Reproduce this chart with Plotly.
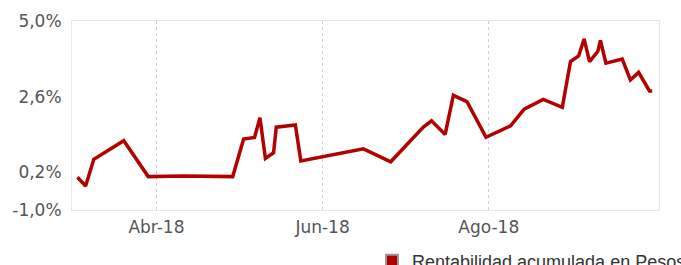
import plotly.graph_objects as go

dates = [
    "2018-03-03", "2018-03-06", "2018-03-09", "2018-03-20", "2018-03-29",
    "2018-04-11", "2018-04-29", "2018-05-03", "2018-05-07", "2018-05-09",
    "2018-05-11", "2018-05-14", "2018-05-15", "2018-05-22", "2018-05-24",
    "2018-06-16", "2018-06-26", "2018-07-08", "2018-07-11", "2018-07-16",
    "2018-07-19", "2018-07-24", "2018-07-31", "2018-08-09", "2018-08-14",
    "2018-08-21", "2018-08-28", "2018-08-31", "2018-09-03", "2018-09-05",
    "2018-09-07", "2018-09-10", "2018-09-11", "2018-09-13", "2018-09-19",
    "2018-09-22", "2018-09-25", "2018-09-29", "2018-09-30",
]
values = [
    0.04, -0.24, 0.61, 1.20, 0.06,
    0.08, 0.06, 1.25, 1.30, 1.93,
    0.64, 0.82, 1.63, 1.70, 0.56,
    0.94, 0.53, 1.63, 1.83, 1.40,
    2.64, 2.44, 1.31, 1.67, 2.20,
    2.51, 2.26, 3.71, 3.89, 4.43,
    3.71, 4.03, 4.38, 3.66, 3.79,
    3.13, 3.37, 2.78, 2.78,
]
series_name = "Rentabilidad acumulada en Pesos"

x_tickvals = ["2018-04-01", "2018-06-01", "2018-08-01"]
x_ticktext = ["Abr-18", "Jun-18", "Ago-18"]
y_tickvals = [-1.0, 0.2, 2.6, 5.0]
y_ticktext = ["-1,0%", "0,2%", "2,6%", "5,0%"]

RED = "#b30000"

fig = go.Figure()
fig.add_trace(go.Scatter(
    x=dates, y=values, mode="lines",
    line=dict(color=RED, width=3.5),
    showlegend=False, name=series_name,
))
fig.add_trace(go.Scatter(
    x=[None], y=[None], mode="markers", name=series_name,
    marker=dict(symbol="square", color=RED, size=13,
                line=dict(color="#999999", width=2)),
))

fig.update_layout(
    width=681, height=265,
    margin=dict(l=72, r=22, t=21, b=55, autoexpand=False),
    paper_bgcolor="white", plot_bgcolor="white",
    font=dict(family="DejaVu Sans", size=17, color="#555555"),
    legend=dict(
        orientation="h", xref="container", yref="container",
        x=372 / 681, xanchor="left", y=4 / 265, yanchor="middle",
        font=dict(family="Liberation Sans", size=18, color="#333333"),
        bgcolor="rgba(0,0,0,0)", itemsizing="constant",
    ),
    xaxis=dict(
        range=["2018-03-01", "2018-10-02 12:00"],
        tickvals=x_tickvals, ticktext=x_ticktext,
        showgrid=True, gridcolor="#d0d0d0", griddash="dot", gridwidth=1,
        showline=True, linecolor="#e6e6e6", linewidth=1, mirror=True,
        ticks="outside", ticklen=2, tickcolor="rgba(0,0,0,0)",
        zeroline=False, automargin=False,
    ),
    yaxis=dict(
        range=[-1.0, 5.0],
        tickvals=y_tickvals, ticktext=y_ticktext,
        showgrid=False,
        showline=True, linecolor="#e6e6e6", linewidth=1, mirror=True,
        ticks="outside", ticklen=6, tickcolor="rgba(0,0,0,0)",
        zeroline=False, automargin=False,
    ),
)

fig.write_html(
    "out.html",
    config={"displayModeBar": False},
    post_script="document.body.style.margin='0px';"
                "document.body.style.overflow='hidden';",
)
